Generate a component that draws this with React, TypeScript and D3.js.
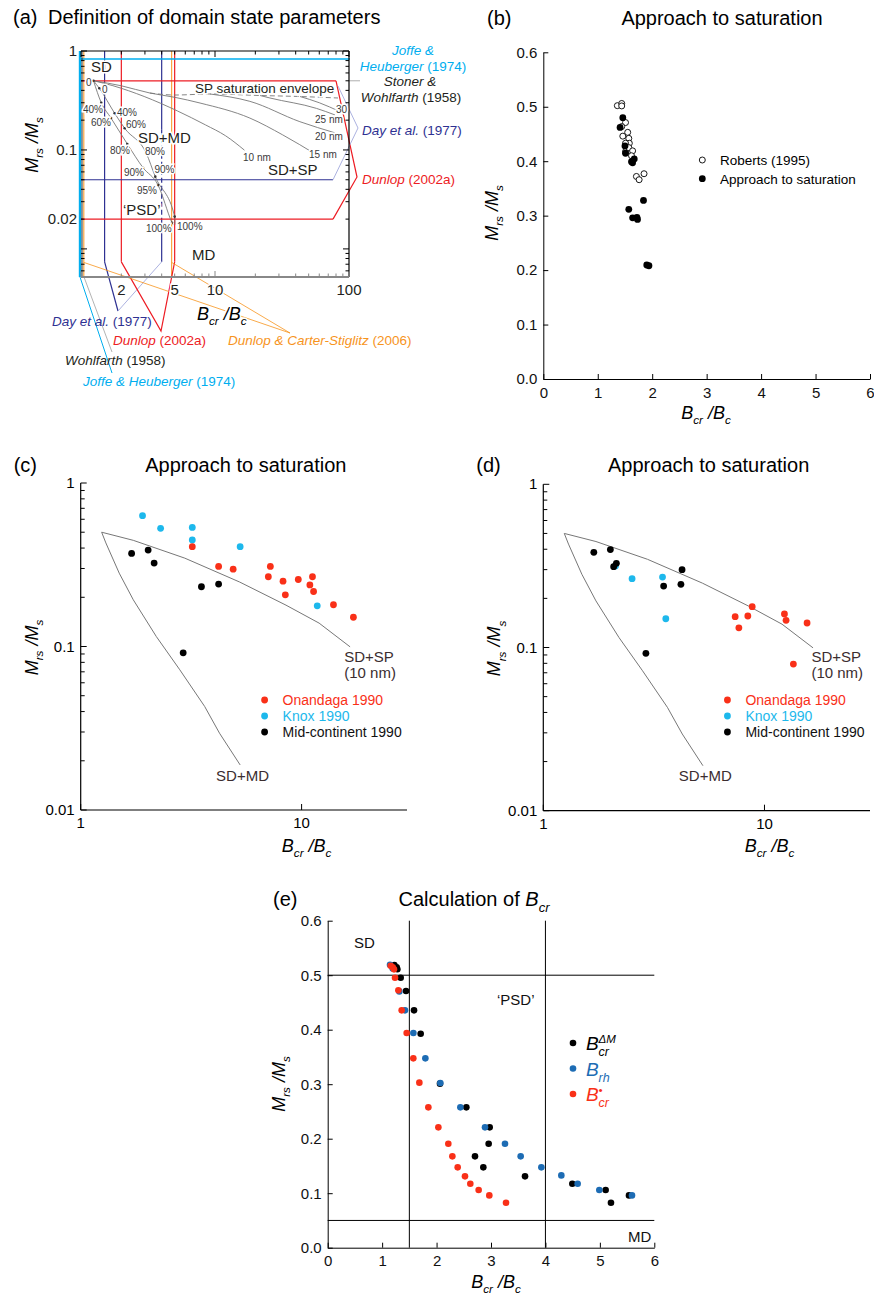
import React, { useEffect, useRef } from "react";
import * as d3 from "d3";

const FONT = "'Liberation Sans', Arial, Helvetica, sans-serif";
const CYAN = "#00aeef";
const RED = "#ed1c24";
const DAY = "#2e3192";
const DAY_LIGHT = "#a3a9dd";
const ORANGE = "#f7941d";
const GREY = "#777";
const LABEL = "#3b2d2f";
const DOT_RED = "#f93018";
const DOT_CYAN = "#1db8ec";
const DOT_BLUE = "#1d6cb4";

// ---------- (a) definition of domain state parameters
const joffeY = 0.83;
const dayX = [1.5, 4];
const dayY = 0.05;
const dunlopX = [2, 5];
const dunlopY = [0.5, 0.02];
const carterX = [1.05, 4.75];
const sdmdLeftA = [[1.24, 0.5], [1.417, 0.3], [1.675, 0.21], [2.216, 0.115], [2.902, 0.0662], [3.755, 0.0443], [4.775, 0.0184], [4.85, 0.0176]];
const sdmdRightA = [[1.24, 0.5], [1.37, 0.42], [1.784, 0.2346], [2.118, 0.1655], [3.071, 0.0925], [3.585, 0.0537], [5.0, 0.0212], [5.03, 0.0176]];
const sdmdLeftDots = [[1.24, 0.5], [1.417, 0.3], [1.675, 0.21], [2.216, 0.115], [2.902, 0.0662], [3.755, 0.0443], [4.775, 0.0184]];
const sdmdRightDots = [[1.37, 0.42], [1.784, 0.2346], [2.118, 0.1655], [3.071, 0.0925], [3.585, 0.0537], [5.0, 0.0212]];
const sp15A = [[1.244, 0.5], [2.0, 0.445], [3.27, 0.376], [5.03, 0.34], [7.73, 0.298], [18.2, 0.21], [32, 0.142], [57.5, 0.089]];
const sp20A = [[9.18, 0.3676], [18.2, 0.31], [43, 0.193], [78.5, 0.149]];
const sp25A = [[21.7, 0.355], [25.7, 0.335], [57.2, 0.263], [78.5, 0.226]];
const sp30A = [[43.1, 0.3467], [60, 0.3], [85, 0.245]];
const envelopeA = [[3.27, 0.376], [5.03, 0.359], [9.18, 0.3676], [21.7, 0.355], [43.1, 0.3467], [82.8, 0.335]];

// SD+SP (10 nm) and SD+MD mixing curves, shared by (a), (c), (d)
const sdSpCurve = [[1.244, 0.5], [1.73, 0.446], [2.96, 0.347], [5.24, 0.248], [8.5, 0.179], [12.0, 0.139], [16.58, 0.0995]];
const sdMdCurve = [[1.244, 0.5], [1.3, 0.43], [1.494, 0.281], [1.73, 0.193], [2.2, 0.115], [2.81, 0.072], [3.64, 0.043], [4.25, 0.0295], [5.27, 0.01886]];

// ---------- (b) approach to saturation
const robertsPts = [[1.36, 0.502], [1.44, 0.506], [1.44, 0.5015], [1.51, 0.471], [1.44, 0.4636], [1.46, 0.446], [1.55, 0.453], [1.57, 0.442], [1.58, 0.433], [1.51, 0.433], [1.51, 0.4176], [1.57, 0.425], [1.64, 0.419], [1.62, 0.41], [1.71, 0.372], [1.76, 0.366], [1.85, 0.377]];
const saturationPts = [[1.46, 0.48], [1.41, 0.462], [1.5, 0.428], [1.51, 0.4146], [1.62, 0.399], [1.67, 0.404], [1.64, 0.397], [1.57, 0.3117], [1.84, 0.328], [1.64, 0.296], [1.72, 0.297], [1.73, 0.293], [1.9, 0.2094], [1.94, 0.208]];

// ---------- (c)
const onandagaC = [[3.2, 0.408], [4.21, 0.309], [4.9, 0.297], [7.07, 0.267], [7.22, 0.309], [8.24, 0.251], [8.44, 0.207], [9.66, 0.257], [10.9, 0.238], [11.2, 0.267], [11.33, 0.217], [13.94, 0.18], [17.16, 0.151]];
const knoxC = [[1.905, 0.631], [2.3, 0.528], [3.2, 0.535], [3.2, 0.448], [5.27, 0.408], [11.77, 0.1774]];
const midC = [[1.7, 0.371], [2.02, 0.389], [2.15, 0.324], [2.91, 0.0915], [3.52, 0.232], [4.21, 0.241]];

// ---------- (d)
const onandagaD = [[7.37, 0.1545], [7.66, 0.132], [8.41, 0.156], [8.8, 0.178], [12.31, 0.1605], [12.52, 0.1467], [15.58, 0.1413], [13.51, 0.0792]];
const knoxD = [[2.12, 0.316], [2.52, 0.264], [3.46, 0.27], [3.58, 0.15]];
const midD = [[1.692, 0.383], [2.01, 0.398], [2.08, 0.313], [2.14, 0.328], [2.91, 0.0921], [3.5, 0.238], [4.24, 0.3], [4.19, 0.244]];

// ---------- (e) calculation of Bcr
const bcrDeltaM = [[1.2245, 0.5187], [1.267, 0.5144], [1.28, 0.511], [1.341, 0.4954], [1.439, 0.471], [1.586, 0.4355], [1.708, 0.3927], [2.063, 0.301], [2.547, 0.2575], [2.976, 0.2208], [2.957, 0.1908], [2.706, 0.1676], [2.859, 0.1474], [3.625, 0.1309], [4.494, 0.1174], [5.106, 0.1058], [5.204, 0.0826], [5.535, 0.096]];
const bRh = [[1.145, 0.5193], [1.194, 0.5125], [1.316, 0.4703], [1.42, 0.4355], [1.574, 0.3939], [1.794, 0.3474], [2.069, 0.3021], [2.437, 0.2575], [2.89, 0.2208], [3.257, 0.1908], [3.545, 0.1676], [3.925, 0.1474], [4.292, 0.1327], [4.592, 0.1174], [4.99, 0.1058], [5.59, 0.096]];
const bcrStar = [[1.157, 0.5174], [1.194, 0.5144], [1.218, 0.5107], [1.237, 0.4954], [1.298, 0.4722], [1.359, 0.4355], [1.451, 0.3939], [1.573, 0.3474], [1.684, 0.3028], [1.849, 0.2575], [2.033, 0.2208], [2.216, 0.1908], [2.29, 0.1676], [2.388, 0.1474], [2.522, 0.1309], [2.62, 0.1174], [2.773, 0.1058], [2.969, 0.096], [3.276, 0.0826]];
const eThresholdX = [1.5, 4];
const eThresholdY = [0.5, 0.05];

const linTicksX = [0, 1, 2, 3, 4, 5, 6];
const linTicksY = [0, 0.1, 0.2, 0.3, 0.4, 0.5, 0.6];

type Part = { t: string; it?: boolean; sub?: boolean; sup?: boolean; fill?: string };

function rich(g: any, x: number, y: number, parts: Part[], size: number, o: any = {}) {
  const t = g.append("text")
    .attr("transform", `translate(${x},${y})${o.rotate ? ` rotate(${o.rotate})` : ""}`)
    .attr("text-anchor", o.anchor || "start")
    .attr("font-size", size)
    .attr("fill", o.fill || "#000");
  if (o.halo) t.attr("stroke", "#fff").attr("stroke-width", 3).attr("paint-order", "stroke");
  let shift = 0;
  parts.forEach((p) => {
    const s = t.append("tspan").text(p.t);
    const target = p.sub ? size * 0.3 : p.sup ? -size * 0.42 : 0;
    if (target !== shift) {
      s.attr("dy", target - shift);
      shift = target;
    }
    if (p.sub || p.sup) s.attr("font-size", size * 0.65);
    if (p.it) s.attr("font-style", "italic");
    if (p.fill) s.attr("fill", p.fill);
  });
  return t;
}
const plain = (g: any, x: number, y: number, s: string, size: number, o: any = {}) => rich(g, x, y, [{ t: s }], size, o);

const mrsParts: Part[] = [{ t: "M", it: true }, { t: "rs", it: true, sub: true }, { t: " /", it: true }, { t: "M", it: true }, { t: "s", it: true, sub: true }];
const bcrParts: Part[] = [{ t: "B", it: true }, { t: "cr", it: true, sub: true }, { t: " /", it: true }, { t: "B", it: true }, { t: "c", it: true, sub: true }];

function dots(g: any, data: number[][], x: any, y: any, r: number, fill: string, stroke = "none") {
  g.append("g").selectAll("circle").data(data).join("circle")
    .attr("cx", (d: number[]) => x(d[0]))
    .attr("cy", (d: number[]) => y(d[1]))
    .attr("r", r)
    .attr("fill", fill)
    .attr("stroke", stroke)
    .attr("stroke-width", 0.9);
}

function seg(g: any, x1: number, y1: number, x2: number, y2: number, stroke: string, w = 1, dash: string | null = null) {
  const l = g.append("line").attr("x1", x1).attr("y1", y1).attr("x2", x2).attr("y2", y2)
    .attr("stroke", stroke).attr("stroke-width", w);
  if (dash) l.attr("stroke-dasharray", dash);
}

function poly(g: any, pts: number[][], stroke: string, w = 1) {
  g.append("path").attr("d", d3.line()(pts as any)).attr("fill", "none").attr("stroke", stroke).attr("stroke-width", w);
}

const isDecade = (v: number) => Math.abs(Math.log10(v) - Math.round(Math.log10(v))) < 1e-9;
const logTicks = (lo: number, hi: number) =>
  d3.range(Math.floor(Math.log10(lo)), Math.ceil(Math.log10(hi)) + 1)
    .flatMap((e) => d3.range(1, 10).map((m) => +(m * 10 ** e).toPrecision(6)))
    .filter((v) => v >= lo * 0.999 && v <= hi * 1.001);

function linearAxes(g: any, x: any, y: any) {
  const xa = g.append("g").attr("transform", `translate(0,${y(0)})`)
    .call(d3.axisBottom(x).tickValues(linTicksX).tickFormat(d3.format("d")).tickSize(-5).tickSizeOuter(0).tickPadding(8));
  const ya = g.append("g").attr("transform", `translate(${x(0)},0)`)
    .call(d3.axisLeft(y).tickValues(linTicksY).tickFormat(d3.format(".1f")).tickSize(-5).tickSizeOuter(0).tickPadding(6));
  [xa, ya].forEach((a) => {
    a.attr("font-size", 15).attr("font-family", FONT);
    a.selectAll("text").attr("fill", "#111");
  });
}

function logAxes(g: any, x: any, y: any) {
  const [L, R] = x.range();
  const [B, T] = y.range();
  seg(g, L, B, R, B, "#000", 1.2);
  seg(g, L, B, L, T, "#000", 1.2);
  logTicks(y.domain()[0], y.domain()[1]).forEach((v) => {
    const major = isDecade(v);
    seg(g, L, y(v), L + (major ? 6 : 4), y(v), "#000", 1);
    if (major) plain(g, L - 6, y(v) + 5, v >= 1 ? "1" : String(v), 15, { anchor: "end" });
  });
  [1, 10].forEach((v) => {
    seg(g, x(v), B, x(v), B - 6, "#000", 1);
    plain(g, x(v), B + 18, String(v), 15, { anchor: "middle" });
  });
}

function drawA(g: any) {
  const x = d3.scaleLog().domain([1, 100]).range([81, 349]);
  const y = d3.scaleLog().domain([0.0052, 1]).range([277, 51]);
  const [L, R] = x.range();
  const [B, T] = y.range();
  const tipY = y(0.0074);
  const curve = (pts: number[][], stroke: string, w = 0.9, dash: string | null = null) => {
    const p = g.append("path")
      .attr("d", d3.line().x((d: any) => x(d[0])).y((d: any) => y(d[1])).curve(d3.curveMonotoneX)(pts as any))
      .attr("fill", "none").attr("stroke", stroke).attr("stroke-width", w);
    if (dash) p.attr("stroke-dasharray", dash);
  };

  plain(g, 13, 24, "(a)", 20);
  plain(g, 48, 24, "Definition of domain state parameters", 20);

  // threshold lines
  carterX.forEach((v) => seg(g, x(v), T, x(v), B, ORANGE, 1));
  seg(g, x(dayX[0]), T, x(dayX[0]), tipY, DAY, 1.2);
  seg(g, x(dayX[1]), T, x(dayX[1]), y(0.16), DAY, 1.2);
  seg(g, x(dayX[1]), y(0.16), x(dayX[1]), y(0.018), DAY, 1.2, "5,3");
  seg(g, x(dayX[1]), y(0.018), x(dayX[1]), tipY, DAY, 1.2);
  dunlopX.forEach((v) => seg(g, x(v), T, x(v), tipY, RED, 1.2));
  seg(g, L, y(dayY), x(76), y(dayY), DAY, 1.2);
  seg(g, L, y(dunlopY[0]), x(80), y(dunlopY[0]), RED, 1.2);
  seg(g, L, y(dunlopY[1]), x(76), y(dunlopY[1]), RED, 1.2);
  seg(g, L, y(joffeY), R + 1, y(joffeY), CYAN, 1.3);
  seg(g, R, y(0.5), R + 11, y(0.5), "#999", 0.8);

  // leaders
  poly(g, [[x(80), y(0.5)], [357, 177], [x(76), y(0.02)]], RED, 1.2);
  poly(g, [[338, 86], [358, 128], [x(76), y(dayY)]], DAY_LIGHT, 0.9);
  poly(g, [[x(dayX[0]), tipY], [118, 311]], DAY, 1.2);
  poly(g, [[x(dayX[1]), tipY], [118, 311]], DAY_LIGHT, 0.9);
  poly(g, [[x(2), tipY], [161, 331], [x(5), tipY]], RED, 1.2);
  carterX.forEach((v) => poly(g, [[x(v), y(0.0073)], [290, 333]], ORANGE, 0.8));
  poly(g, [[L + 3, B], [112, 352]], "#aaa", 0.9);
  poly(g, [[L - 1, B], [112, 373]], CYAN, 1);

  // mixing curves
  curve(envelopeA, GREY, 0.9, "5,3");
  curve(sdSpCurve, GREY);
  curve(sp15A, GREY);
  curve(sp20A, GREY);
  curve(sp25A, GREY);
  curve(sp30A, GREY);
  curve(sdmdLeftA, GREY);
  curve(sdmdRightA, GREY);
  dots(g, sdmdLeftDots, x, y, 1.3, "#333");
  dots(g, sdmdRightDots, x, y, 1.3, "#333");

  // frame
  seg(g, L - 1, T, L - 1, B, CYAN, 2.4);
  seg(g, L + 1, T, L + 1, B, "#000", 0.8);
  seg(g, L, T, R, T, "#000", 1.2);
  seg(g, R, T, R, B, "#000", 1.2);
  seg(g, L, B, R, B, "#888", 2);
  logTicks(1, 100).forEach((v) => {
    const len = isDecade(v) ? 6 : 3.5;
    seg(g, x(v), T, x(v), T + len, "#000", 1);
    seg(g, x(v), B, x(v), B - len, "#888", 1);
  });
  logTicks(0.006, 1).forEach((v) => {
    const len = isDecade(v) ? 6 : 3.5;
    seg(g, L, y(v), L + len, y(v), "#000", 1);
    seg(g, R, y(v), R - len, y(v), "#000", 1);
  });
  [1, 0.1, 0.02].forEach((v) => plain(g, 77, y(v) + 5, String(v), 15, { anchor: "end", fill: "#231f20" }));
  [2, 5, 10, 100].forEach((v) => plain(g, x(v), 295, String(v), 15, { anchor: "middle", fill: "#231f20", halo: true }));
  rich(g, 38, 145, mrsParts, 18, { anchor: "middle", rotate: -90 });
  rich(g, 197, 320, bcrParts, 18, { halo: true });

  // region labels
  const inner = { fill: "#231f20", halo: true };
  plain(g, 91, 72, "SD", 15, inner);
  plain(g, 195, 93, "SP saturation envelope", 13.5, inner);
  plain(g, 138, 143, "SD+MD", 15, inner);
  plain(g, 268, 175, "SD+SP", 15, inner);
  plain(g, 123, 215, "\u2018PSD\u2019", 15, inner);
  plain(g, 192, 260, "MD", 15, inner);
  const small = { fill: "#3a3a3a", halo: true };
  plain(g, 336, 113, "30", 10, small);
  plain(g, 315, 123, "25 nm", 10, small);
  plain(g, 315, 140, "20 nm", 10, small);
  plain(g, 309, 158, "15 nm", 10, small);
  plain(g, 243, 161, "10 nm", 10, small);
  const pct: [number, number, string][] = [
    [86, 86, "0"], [83, 112.5, "40%"], [91, 126, "60%"], [110, 154, "80%"], [124, 176, "90%"], [137, 194, "95%"], [146, 231.5, "100%"],
    [102, 93, "0"], [117, 116, "40%"], [126, 127.5, "60%"], [145, 155, "80%"], [154.5, 173, "90%"], [177, 230, "100%"],
  ];
  pct.forEach(([px, py, s]) => plain(g, px, py, s, 10, small));

  // source labels
  const lab = 13.5;
  rich(g, 413, 55, [{ t: "Joffe &", it: true }], lab, { anchor: "middle", fill: CYAN });
  rich(g, 413, 71, [{ t: "Heuberger", it: true }, { t: " (1974)" }], lab, { anchor: "middle", fill: CYAN });
  rich(g, 410, 86, [{ t: "Stoner &", it: true }], lab, { anchor: "middle", fill: "#231f20" });
  rich(g, 411, 102, [{ t: "Wohlfarth", it: true }, { t: " (1958)" }], lab, { anchor: "middle", fill: "#231f20" });
  rich(g, 362, 135, [{ t: "Day et al.", it: true }, { t: " (1977)" }], lab, { fill: DAY });
  rich(g, 362, 184, [{ t: "Dunlop", it: true }, { t: " (2002a)" }], lab, { fill: RED });
  rich(g, 52, 326, [{ t: "Day et al.", it: true }, { t: " (1977)" }], lab, { fill: DAY });
  rich(g, 113, 345, [{ t: "Dunlop", it: true }, { t: " (2002a)" }], lab, { fill: RED });
  rich(g, 228, 345, [{ t: "Dunlop & Carter-Stiglitz", it: true }, { t: " (2006)" }], lab, { fill: ORANGE });
  rich(g, 65, 365, [{ t: "Wohlfarth", it: true }, { t: " (1958)" }], lab, { fill: "#231f20" });
  rich(g, 83, 386, [{ t: "Joffe & Heuberger", it: true }, { t: " (1974)" }], lab, { fill: CYAN });
}

function drawB(g: any) {
  const x = d3.scaleLinear().domain([0, 6]).range([543.3, 870]);
  const y = d3.scaleLinear().domain([0, 0.6]).range([379, 52.3]);
  plain(g, 487, 25, "(b)", 20);
  plain(g, 722, 25, "Approach to saturation", 20, { anchor: "middle" });
  linearAxes(g, x, y);
  dots(g, robertsPts, x, y, 3, "#fff", "#000");
  dots(g, saturationPts, x, y, 3.4, "#000");
  g.append("circle").attr("cx", 702.3).attr("cy", 160).attr("r", 3).attr("fill", "#fff").attr("stroke", "#000").attr("stroke-width", 0.9);
  g.append("circle").attr("cx", 702.3).attr("cy", 178.7).attr("r", 3.4).attr("fill", "#000");
  plain(g, 720, 165, "Roberts (1995)", 13.5);
  plain(g, 720, 184, "Approach to saturation", 13.5);
  rich(g, 498, 213, mrsParts, 18, { anchor: "middle", rotate: -90 });
  rich(g, 706, 419, bcrParts, 18, { anchor: "middle" });
}

function drawLogPanel(g: any, tag: string, L: number, R: number, B: number, T: number, onandaga: number[][], knox: number[][], mid: number[][], spAt: number) {
  const x = d3.scaleLog().domain([1, 30]).range([L, R]);
  const y = d3.scaleLog().domain([0.01, 1]).range([B, T]);
  const line = d3.line().x((d: any) => x(d[0])).y((d: any) => y(d[1]));
  plain(g, L - 67, 472, tag, 20);
  plain(g, (L + R) / 2 + 2, 472, "Approach to saturation", 20, { anchor: "middle" });
  g.append("path").attr("d", line(sdSpCurve as any)).attr("fill", "none").attr("stroke", GREY).attr("stroke-width", 1);
  g.append("path").attr("d", line(sdMdCurve as any)).attr("fill", "none").attr("stroke", GREY).attr("stroke-width", 1);
  logAxes(g, x, y);
  dots(g, knox, x, y, 3.4, DOT_CYAN);
  dots(g, onandaga, x, y, 3.4, DOT_RED);
  dots(g, mid, x, y, 3.4, "#000");
  const sx = x(spAt);
  plain(g, sx, 662, "SD+SP", 15, { fill: LABEL });
  plain(g, sx, 678, "(10 nm)", 15, { fill: LABEL });
  plain(g, x(4.1), 781, "SD+MD", 15, { fill: LABEL });
  const lx = x(6.8);
  [["Onandaga 1990", DOT_RED], ["Knox 1990", DOT_CYAN], ["Mid-continent 1990", "#000"]].forEach(([s, c], i) => {
    g.append("circle").attr("cx", lx).attr("cy", 700 + i * 16).attr("r", 3.4).attr("fill", c);
    plain(g, lx + 18, 705 + i * 16, s, 14, { fill: c === "#000" ? "#111" : c });
  });
  rich(g, L - 43, (B + T) / 2 + 1, mrsParts, 18, { anchor: "middle", rotate: -90 });
  rich(g, x(10) + 5, 852, bcrParts, 18, { anchor: "middle" });
}

function drawE(g: any) {
  const x = d3.scaleLinear().domain([0, 6]).range([327.7, 654.3]);
  const y = d3.scaleLinear().domain([0, 0.6]).range([1247.7, 920.7]);
  plain(g, 273, 906, "(e)", 20);
  rich(g, 474, 906, [{ t: "Calculation of " }, { t: "B", it: true }, { t: "cr", it: true, sub: true }], 20, { anchor: "middle" });
  eThresholdX.forEach((v) => seg(g, x(v), y(0), x(v), y(0.6), "#000", 1));
  eThresholdY.forEach((v) => seg(g, x(0), y(v), x(6), y(v), "#000", 1));
  linearAxes(g, x, y);
  dots(g, bcrDeltaM, x, y, 3.3, "#000");
  dots(g, bRh, x, y, 3.3, DOT_BLUE);
  dots(g, bcrStar, x, y, 3.3, DOT_RED);
  plain(g, 354, 948, "SD", 15, { fill: "#111" });
  plain(g, 497, 1005, "\u2018PSD\u2019", 15, { fill: "#111" });
  plain(g, 628, 1242, "MD", 15, { fill: "#111" });
  const leg: [string, string, string][] = [["#000", "cr", "\u0394M"], [DOT_BLUE, "rh", ""], [DOT_RED, "cr", "\u2022"]];
  leg.forEach(([c, sub, sup], i) => {
    const cy = 1043 + i * 25.5;
    g.append("circle").attr("cx", 573).attr("cy", cy).attr("r", 3.3).attr("fill", c);
    rich(g, 586, cy + 7, [{ t: "B", it: true }], 19, { fill: c });
    rich(g, 598.5, cy + 13, [{ t: sub, it: true }], 12.5, { fill: c });
    if (sup) rich(g, 598.5, cy, [{ t: sup, it: true }], 11.5, { fill: c });
  });
  rich(g, 285, 1084, mrsParts, 18, { anchor: "middle", rotate: -90 });
  rich(g, 496, 1288, bcrParts, 18, { anchor: "middle" });
}

export default function App() {
  const svgRef = useRef<SVGSVGElement>(null);

  useEffect(() => {
    const svg = d3.select(svgRef.current);
    svg.selectAll("*").remove();
    svg.attr("font-family", FONT);
    svg.append("rect").attr("width", 874).attr("height", 1297).attr("fill", "#fff");
    drawA(svg.append("g"));
    drawB(svg.append("g"));
    drawLogPanel(svg.append("g"), "(c)", 80.7, 407, 810, 483, onandagaC, knoxC, midC, 15.6);
    drawLogPanel(svg.append("g"), "(d)", 543.3, 870, 810.7, 484.3, onandagaD, knoxD, midD, 16.3);
    drawE(svg.append("g"));
  }, []);

  return (
    <div style={{ position: "absolute", left: 0, top: 0 }}>
      <svg ref={svgRef} width={874} height={1297} style={{ display: "block" }} />
    </div>
  );
}
